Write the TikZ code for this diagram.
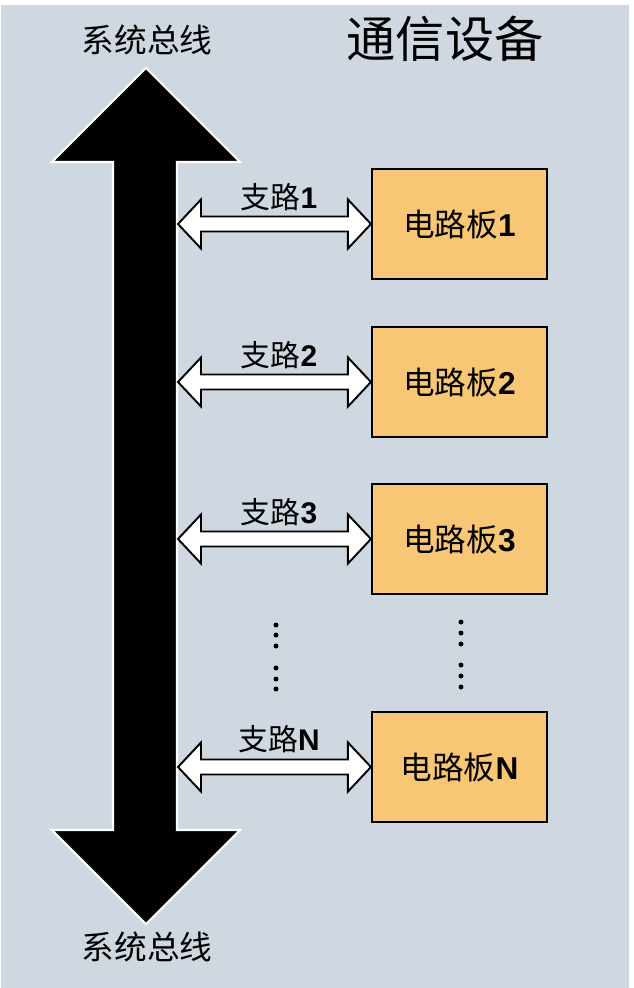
\documentclass[tikz,border=0pt]{standalone}
\usepackage{fontspec}
\setmainfont{Liberation Sans}
\newfontfamily\cjk{Noto Sans CJK SC}
\usetikzlibrary{calc}
\definecolor{panel}{RGB}{207,216,224}
\definecolor{boardfill}{RGB}{248,199,117}
\tikzset{
    bus/.style = {fill=black, draw=white, line width=1.2pt, line join=miter},
    branch/.style = {fill=white, draw=black, line width=1.1pt, line join=miter},
    board/.style = {rectangle, draw=black, line width=1.2pt, fill=boardfill, minimum width=3.5cm, minimum height=2.2cm, inner sep=0pt, font=\fontsize{18}{20}\selectfont},
    blabel/.style = {inner sep=0pt, font=\fontsize{17}{19}\selectfont},
    buslabel/.style = {inner sep=0pt, font=\cjk\fontsize{18.6}{20}\selectfont},
    title/.style = {inner sep=0pt, font=\cjk\fontsize{28}{30}\selectfont},
    vdot/.style = {fill=black}
}

\begin{document}
\begin{tikzpicture}[x=0.02cm, y=-0.02cm]
  \useasboundingbox (0,0) rectangle (633,988);
  \fill[panel] (1,5) rectangle (629,988);

  \node[title] (dev) at (445,39) {通信设备};
  \node[buslabel] (bustop) at (147,40) {系统总线};
  \node[buslabel] (busbot) at (147,947) {系统总线};

  % system bus
  \draw[bus] (146,68) -- (240,162) -- (177,162) -- (177,830) -- (240,830)
    -- (146,924) -- (52,830) -- (113,830) -- (113,162) -- (52,162) -- cycle;

  % boards
  \node[board] (b1) at (459.5,224) {{\cjk 电路板}\textbf{1}};
  \node[board] (b2) at (459.5,382) {{\cjk 电路板}\textbf{2}};
  \node[board] (b3) at (459.5,539) {{\cjk 电路板}\textbf{3}};
  \node[board] (bn) at (459.5,767) {{\cjk 电路板}\textbf{N}};

  \coordinate (s1) at (178,224);
  \coordinate (s2) at (178,382);
  \coordinate (s3) at (178,539);
  \coordinate (sn) at (178,767);

  % branches
  \draw[branch] (s1) -- ++(23,-24.5) -- ++(0,17) -- ($(b1.west)+(-23,-7.5)$) -- ++(0,-17)
    -- (b1.west) -- ++(-23,24.5) -- ++(0,-17) -- ($(s1)+(23,7.5)$) -- ++(0,17) -- cycle;
  \draw[branch] (s2) -- ++(23,-24.5) -- ++(0,17) -- ($(b2.west)+(-23,-7.5)$) -- ++(0,-17)
    -- (b2.west) -- ++(-23,24.5) -- ++(0,-17) -- ($(s2)+(23,7.5)$) -- ++(0,17) -- cycle;
  \draw[branch] (s3) -- ++(23,-24.5) -- ++(0,17) -- ($(b3.west)+(-23,-7.5)$) -- ++(0,-17)
    -- (b3.west) -- ++(-23,24.5) -- ++(0,-17) -- ($(s3)+(23,7.5)$) -- ++(0,17) -- cycle;
  \draw[branch] (sn) -- ++(23,-24.5) -- ++(0,17) -- ($(bn.west)+(-23,-7.5)$) -- ++(0,-17)
    -- (bn.west) -- ++(-23,24.5) -- ++(0,-17) -- ($(sn)+(23,7.5)$) -- ++(0,17) -- cycle;

  \node[blabel] (l1) at (279,197) {{\cjk 支路}\textbf{1}};
  \node[blabel] (l2) at (279,355) {{\cjk 支路}\textbf{2}};
  \node[blabel] (l3) at (279,512) {{\cjk 支路}\textbf{3}};
  \node[blabel] (ln) at (279,739) {{\cjk 支路}\textbf{N}};

  % dots
  \fill[vdot] (276,625) circle (2.5);
  \fill[vdot] (276,635) circle (2.5);
  \fill[vdot] (276,646) circle (2.5);
  \fill[vdot] (276,668) circle (2.5);
  \fill[vdot] (276,679) circle (2.5);
  \fill[vdot] (276,689) circle (2.5);
  \fill[vdot] (461,622) circle (2.5);
  \fill[vdot] (461,633) circle (2.5);
  \fill[vdot] (461,644) circle (2.5);
  \fill[vdot] (461,665) circle (2.5);
  \fill[vdot] (461,676) circle (2.5);
  \fill[vdot] (461,687) circle (2.5);
\end{tikzpicture}
\end{document}
